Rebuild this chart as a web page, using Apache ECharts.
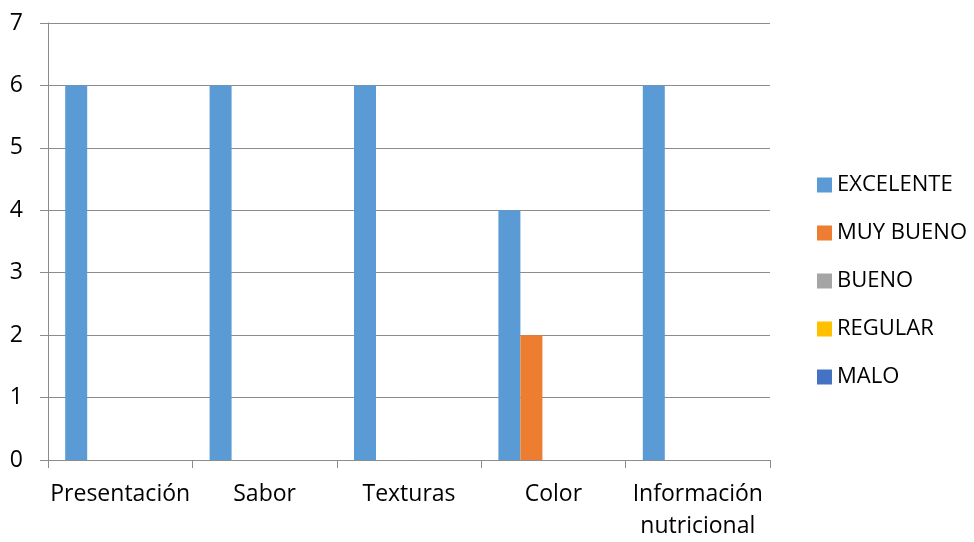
<!DOCTYPE html>
<html>
<head>
<meta charset="utf-8">
<script src="https://cdn.jsdelivr.net/npm/echarts@6/dist/echarts.min.js"></script>
<style>
  html, body { margin: 0; padding: 0; background: #fff; overflow: hidden; }
  #chart { width: 974px; height: 542px; }
</style>
</head>
<body>
<div id="chart"></div>
<script>
// Evaluation categories and ratings per grade
const categories = ['Presentación', 'Sabor', 'Texturas', 'Color', 'Información\nnutricional'];
const excelente = [6, 6, 6, 4, 6];
const muyBueno  = [0, 0, 0, 2, 0];
const bueno     = [0, 0, 0, 0, 0];
const regular   = [0, 0, 0, 0, 0];
const malo      = [0, 0, 0, 0, 0];
const seriesNames = ['EXCELENTE', 'MUY BUENO', 'BUENO', 'REGULAR', 'MALO'];
const seriesColors = ['#5B9BD5', '#ED7D31', '#A5A5A5', '#FFC000', '#4472C4'];

const FONT = 'Open Sans';
const lineColor = '#8c8c8c';

const chart = echarts.init(document.getElementById('chart'), null, { renderer: 'canvas', width: 974, height: 542 });

const seriesData = [excelente, muyBueno, bueno, regular, malo];

chart.setOption({
  animation: false,
  textStyle: { fontFamily: FONT },
  color: seriesColors,
  grid: { left: 48, top: 23, width: 722, height: 441, containLabel: false },
  legend: {
    orient: 'vertical',
    left: 812,
    top: 169,
    itemWidth: 15,
    itemHeight: 15,
    itemGap: 26,
    icon: 'rect',
    textStyle: { fontFamily: FONT, fontSize: 22, color: '#000', lineHeight: 20, padding: 0 },
    data: seriesNames
  },
  xAxis: {
    type: 'category',
    data: categories,
    axisLine: { lineStyle: { color: lineColor, width: 1 } },
    axisTick: { show: true, length: 8, lineStyle: { color: lineColor } },
    axisLabel: { fontFamily: FONT, fontSize: 23, color: '#000', margin: 18, lineHeight: 32, interval: 0 },
    splitLine: { show: false }
  },
  yAxis: {
    type: 'value',
    min: 0,
    max: 7,
    interval: 1,
    axisLine: { show: true, lineStyle: { color: lineColor, width: 1 } },
    axisTick: { show: true, length: 8, lineStyle: { color: lineColor } },
    axisLabel: { fontFamily: FONT, fontSize: 23, color: '#000', margin: 25 },
    splitLine: { show: true, lineStyle: { color: lineColor, width: 1 } }
  },
  series: seriesNames.map((name, i) => ({
    name: name,
    type: 'bar',
    data: seriesData[i],
    barWidth: 22,
    barGap: '0%',
    itemStyle: { color: seriesColors[i] }
  }))
});
</script>
</body>
</html>
